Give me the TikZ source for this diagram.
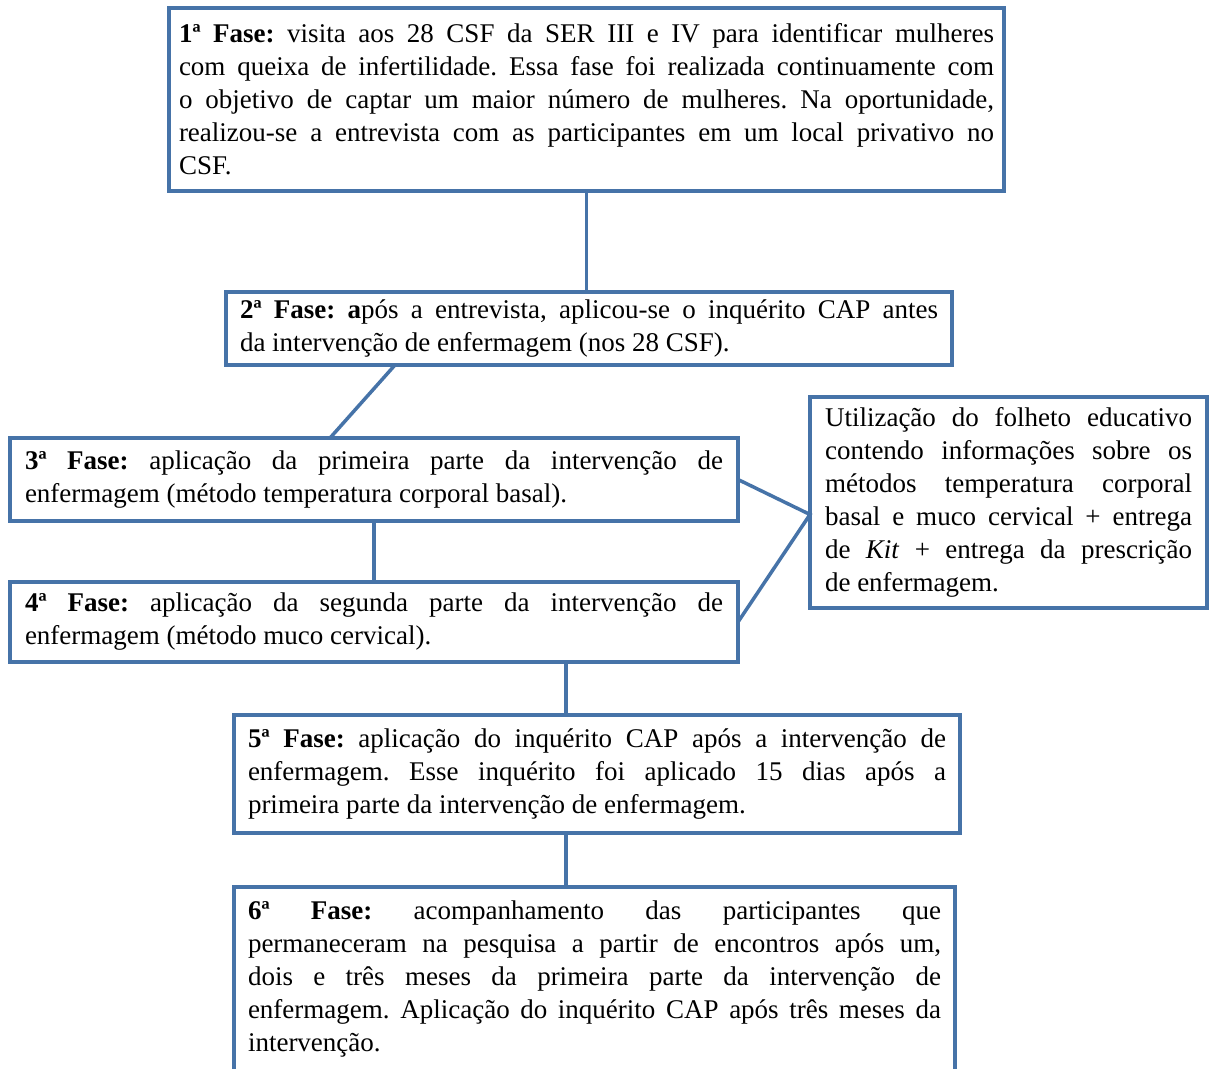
\documentclass[tikz,border=0pt]{standalone}
\usepackage{fontspec}
\setmainfont{Liberation Serif}
\definecolor{bord}{RGB}{70,115,168}
\frenchspacing
\begin{document}
\begin{tikzpicture}[x=1pt,y=-1pt,
  box/.style={draw=bord, line width=3.5pt, fill=white, outer sep=0pt,
    inner ysep=0pt, align=justify, anchor=north west,
    font=\fontsize{27}{33}\selectfont\frenchspacing},
  conn/.style={draw=bord, line width=3.5pt}]
\fill[white] (0,0) rectangle (1209,1068);
\useasboundingbox (0,0) rectangle (1209,1068);

\node[box, text width=815pt, inner xsep=10pt, minimum height=183pt] (b1) at (169,8)
 {\textbf{1ª Fase:} visita aos 28 CSF da SER III e IV para identificar mulheres\linebreak
  com queixa de infertilidade. Essa fase foi realizada continuamente com\linebreak
  o objetivo de captar um maior número de mulheres. Na oportunidade,\linebreak
  realizou-se a entrevista com as participantes em um local privativo no\linebreak
  CSF.};

\node[box, text width=698pt, inner xsep=14pt, minimum height=73pt] (b2) at (226,292)
 {\textbf{2ª Fase: a}pós a entrevista, aplicou-se o inquérito CAP antes\linebreak
  da intervenção de enfermagem (nos 28 CSF).};

\node[box, text width=698pt, inner xsep=15pt, minimum height=83pt] (b3) at (10,438)
 {\textbf{3ª Fase:} aplicação da primeira parte da intervenção de\linebreak
  enfermagem (método temperatura corporal basal).};

\node[box, text width=698pt, inner xsep=15pt, minimum height=80pt] (b4) at (10,582)
 {\textbf{4ª Fase:} aplicação da segunda parte da intervenção de\linebreak
  enfermagem (método muco cervical).};

\node[box, text width=698pt, inner xsep=14pt, minimum height=118pt] (b5) at (234,715)
 {\textbf{5ª Fase:} aplicação do inquérito CAP após a intervenção de\linebreak
  enfermagem. Esse inquérito foi aplicado 15 dias após a\linebreak
  primeira parte da intervenção de enfermagem.};

\node[box, text width=693pt, inner xsep=14pt, minimum height=184pt] (b6) at (234,887)
 {\textbf{6ª Fase:} acompanhamento das participantes que\linebreak
  permaneceram na pesquisa a partir de encontros após um,\linebreak
  dois e três meses da primeira parte da intervenção de\linebreak
  enfermagem. Aplicação do inquérito CAP após três meses da\linebreak
  intervenção.};

\node[box, text width=367pt, inner xsep=15pt, minimum height=211pt] (rb) at (810,397)
 {Utilização do folheto educativo\linebreak
  contendo informações sobre os\linebreak
  métodos temperatura corporal\linebreak
  basal e muco cervical + entrega\linebreak
  de \textit{Kit} + entrega da prescrição\linebreak
  de enfermagem.};

\coordinate (c) at (566,0);
\coordinate (meet) at ([yshift=-12pt]rb.west);

\draw[conn] (b1.south) -- (b1.south |- b2.north);
\draw[conn] ([xshift=-194pt]b2.south) -- ([xshift=-44pt]b3.north);
\draw[conn] (b3.south) -- (b4.north);
\draw[conn] (b3.east) -- (meet) -- (b4.east);
\draw[conn] (b4.south -| c) -- (b5.north -| c);
\draw[conn] (b5.south -| c) -- (b6.north -| c);
\end{tikzpicture}
\end{document}
